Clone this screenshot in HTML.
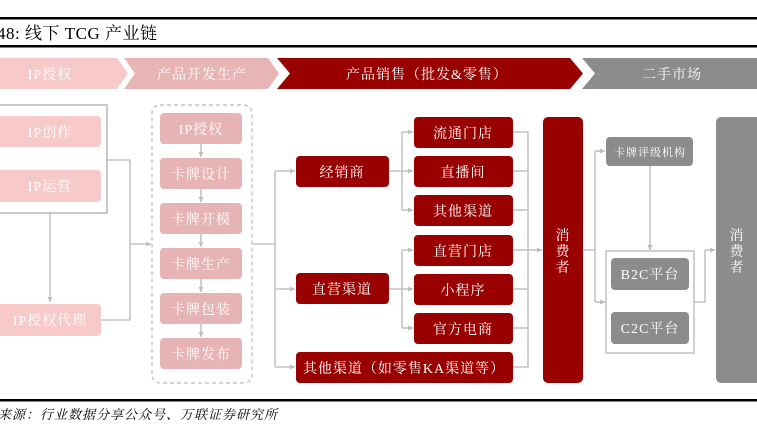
<!DOCTYPE html>
<html><head><meta charset="utf-8"><style>
html,body{margin:0;padding:0;background:#fff;}
svg{display:block;font-family:"Liberation Serif","Noto Serif CJK SC",serif;}
</style></head><body>
<svg width="757" height="439" viewBox="0 0 757 439" xmlns="http://www.w3.org/2000/svg">
<defs>
<marker id="a" markerWidth="6" markerHeight="6" refX="5" refY="3" orient="auto" markerUnits="userSpaceOnUse"><path d="M0,0.5 L5,3 L0,5.5 z" fill="#bdbdbd"/></marker>
</defs>
<rect x="0" y="17" width="757" height="2.5" fill="#000"/>
<rect x="0" y="45" width="757" height="2.5" fill="#000"/>
<text x="-12" y="39" font-size="17" fill="#000" letter-spacing="0.5">148:  线下 TCG 产业链</text>
<!-- banner -->
<polygon points="0,58 117,58 128,73.5 117,89 0,89" fill="#f8c9c9"/>
<polygon points="124,58 268,58 279,73.5 268,89 124,89 135,73.5" fill="#e8b5b5"/>
<polygon points="277,58 570,58 583,73.5 570,89 277,89 290,73.5" fill="#990000"/>
<polygon points="582,58 757,58 757,89 582,89 595,73.5" fill="#8c8c8c"/>
<g fill="#fff" font-size="14" text-anchor="middle" letter-spacing="1">
<text x="50" y="79">IP授权</text>
<text x="202" y="79">产品开发生产</text>
<text x="427" y="79">产品销售（批发&amp;零售）</text>
<text x="672" y="79">二手市场</text>
</g>
<!-- connectors -->
<g stroke="#c4c4c4" stroke-width="1.6" fill="none">
<rect x="-2" y="105" width="109" height="108" stroke="#bdbdbd"/>
<polyline points="107,160 130,160 130,320 101,320"/>
<line x1="50" y1="213" x2="50" y2="302" marker-end="url(#a)"/>
<line x1="130" y1="244" x2="151" y2="244" marker-end="url(#a)"/>
<line x1="201" y1="144" x2="201" y2="157" marker-end="url(#a)"/>
<line x1="201" y1="189" x2="201" y2="202" marker-end="url(#a)"/>
<line x1="201" y1="234" x2="201" y2="247" marker-end="url(#a)"/>
<line x1="201" y1="279" x2="201" y2="292" marker-end="url(#a)"/>
<line x1="201" y1="324" x2="201" y2="337" marker-end="url(#a)"/>
<polyline points="252,244 275,244"/>
<polyline points="275,171 275,367"/>
<line x1="275" y1="171" x2="295" y2="171" marker-end="url(#a)"/>
<line x1="275" y1="289" x2="295" y2="289" marker-end="url(#a)"/>
<line x1="275" y1="367" x2="295" y2="367" marker-end="url(#a)"/>
<line x1="389" y1="171" x2="413" y2="171" marker-end="url(#a)"/>
<line x1="389" y1="289" x2="413" y2="289" marker-end="url(#a)"/>
<polyline points="402,132 402,210"/>
<line x1="402" y1="132" x2="413" y2="132" marker-end="url(#a)"/>
<line x1="402" y1="210" x2="413" y2="210" marker-end="url(#a)"/>
<polyline points="402,250 402,328"/>
<line x1="402" y1="250" x2="413" y2="250" marker-end="url(#a)"/>
<line x1="402" y1="328" x2="413" y2="328" marker-end="url(#a)"/>
<polyline points="513,132 528,132 528,367 513,367"/>
<line x1="513" y1="171" x2="528" y2="171"/>
<line x1="513" y1="210" x2="528" y2="210"/>
<line x1="513" y1="250" x2="528" y2="250"/>
<line x1="513" y1="289" x2="528" y2="289"/>
<line x1="513" y1="328" x2="528" y2="328"/>
<line x1="528" y1="250" x2="542" y2="250" marker-end="url(#a)"/>
<polyline points="583,250 595,250"/>
<polyline points="595,151 595,302"/>
<line x1="595" y1="151" x2="605" y2="151" marker-end="url(#a)"/>
<line x1="595" y1="302" x2="605" y2="302" marker-end="url(#a)"/>
<line x1="650" y1="166" x2="650" y2="250" marker-end="url(#a)"/>
<rect x="606" y="251" width="88" height="102"/>
<polyline points="694,302 705,302 705,250"/>
<line x1="705" y1="250" x2="715" y2="250" marker-end="url(#a)"/>
</g>
<rect x="152" y="105" width="100" height="278" rx="8" fill="none" stroke="#c4c4c4" stroke-width="1.4" stroke-dasharray="4,3"/>
<!-- left boxes -->
<g fill="#f8c9c9">
<rect x="-4" y="116" width="105" height="31" rx="4"/>
<rect x="-4" y="170" width="105" height="32" rx="4"/>
<rect x="-4" y="304" width="105" height="32" rx="4"/>
</g>
<g fill="#e6b4b4">
<rect x="160" y="113" width="82" height="31" rx="4"/>
<rect x="160" y="158" width="82" height="31" rx="4"/>
<rect x="160" y="203" width="82" height="31" rx="4"/>
<rect x="160" y="248" width="82" height="31" rx="4"/>
<rect x="160" y="293" width="82" height="31" rx="4"/>
<rect x="160" y="338" width="82" height="31" rx="4"/>
</g>
<g fill="#990000">
<rect x="296" y="156" width="93" height="31" rx="4"/>
<rect x="296" y="273" width="93" height="31" rx="4"/>
<rect x="296" y="352" width="217" height="31" rx="4"/>
<rect x="414" y="117" width="99" height="31" rx="4"/>
<rect x="414" y="156" width="99" height="31" rx="4"/>
<rect x="414" y="195" width="99" height="31" rx="4"/>
<rect x="414" y="235" width="99" height="31" rx="4"/>
<rect x="414" y="274" width="99" height="31" rx="4"/>
<rect x="414" y="313" width="99" height="31" rx="4"/>
<rect x="543" y="117" width="40" height="266" rx="5"/>
</g>
<g fill="#8c8c8c">
<rect x="606" y="137" width="87" height="29" rx="4"/>
<rect x="611" y="258" width="78" height="32" rx="4"/>
<rect x="611" y="312" width="78" height="32" rx="4"/>
<rect x="716" y="117" width="45" height="266" rx="5"/>
</g>
<g fill="#fff" font-size="14" text-anchor="middle" letter-spacing="1">
<text x="50" y="137">IP创作</text>
<text x="50" y="191">IP运营</text>
<text x="50" y="325">IP授权代理</text>
<text x="201" y="134">IP授权</text>
<text x="201" y="179">卡牌设计</text>
<text x="201" y="224">卡牌开模</text>
<text x="201" y="269">卡牌生产</text>
<text x="201" y="314">卡牌包装</text>
<text x="201" y="359">卡牌发布</text>
<text x="342" y="177">经销商</text>
<text x="342" y="294">直营渠道</text>
<text x="404" y="373">其他渠道（如零售KA渠道等）</text>
<text x="463" y="138">流通门店</text>
<text x="463" y="177">直播间</text>
<text x="463" y="216">其他渠道</text>
<text x="463" y="256">直营门店</text>
<text x="463" y="295">小程序</text>
<text x="463" y="334">官方电商</text>
<text x="563" y="240">消</text>
<text x="563" y="256">费</text>
<text x="563" y="272">者</text>
<text x="650" y="279">B2C平台</text>
<text x="650" y="333">C2C平台</text>
<text x="737" y="240">消</text>
<text x="737" y="256">费</text>
<text x="737" y="272">者</text>
<text x="650" y="156" font-size="11">卡牌评级机构</text>
</g>
<rect x="0" y="399" width="757" height="2.5" fill="#000"/>
<text x="-2" y="419" font-size="13" font-style="italic" fill="#000" letter-spacing="1">来源：行业数据分享公众号、万联证券研究所</text>
</svg>
</body></html>
